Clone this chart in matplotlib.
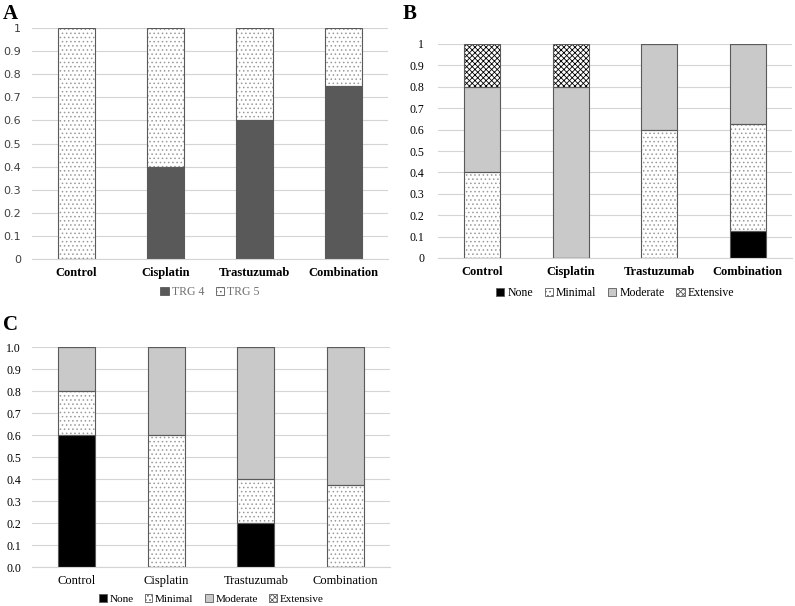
import numpy as np
import matplotlib
matplotlib.use('Agg')
import matplotlib.pyplot as plt
from matplotlib.patches import Patch

plt.rcParams['font.family'] = ['Liberation Serif', 'DejaVu Serif']
plt.rcParams['hatch.linewidth'] = 0.6

CATEGORIES = ['Control', 'Cisplatin', 'Trastuzumab', 'Combination']

# Panel A - tumour regression grade
TRG4 = [0.0, 0.4, 0.6, 0.75]
TRG5 = [1.0, 0.6, 0.4, 0.25]

# Panel B
B_NONE = [0.0, 0.0, 0.0, 0.125]
B_MINIMAL = [0.4, 0.0, 0.6, 0.5]
B_MODERATE = [0.4, 0.8, 0.4, 0.375]
B_EXTENSIVE = [0.2, 0.2, 0.0, 0.0]

# Panel C
C_NONE = [0.6, 0.0, 0.2, 0.0]
C_MINIMAL = [0.2, 0.6, 0.2, 0.375]
C_MODERATE = [0.2, 0.4, 0.6, 0.625]
C_EXTENSIVE = [0.0, 0.0, 0.0, 0.0]

W, H = 795, 606
EDGE = '#5a5a5a'
GRID = '#d4d4d4'

STYLES = {
    'TRG 4':     dict(fc='#595959', hatch=None, hc=None),
    'TRG 5':     dict(fc='white', hatch='....', hc='#9a9a9a'),
    'None':      dict(fc='black', hatch=None, hc=None),
    'Minimal':   dict(fc='white', hatch='....', hc='#9a9a9a'),
    'Moderate':  dict(fc='#c9c9c9', hatch=None, hc=None),
    'Extensive': dict(fc='white', hatch='xxxxxx', hc='black'),
}


def px_axes(fig, left, top, right, bottom):
    return fig.add_axes([left / W, 1 - bottom / H, (right - left) / W, (bottom - top) / H])


def stacked(ax, series, labels):
    x = np.arange(len(CATEGORIES))
    bottom = np.zeros(len(CATEGORIES))
    for vals, lab in zip(series, labels):
        st = STYLES[lab]
        vals = np.array(vals)
        if st['hatch']:
            ax.bar(x, vals, 0.41, bottom=bottom, color=st['fc'], hatch=st['hatch'],
                   edgecolor=st['hc'], linewidth=0, zorder=2)
        else:
            ax.bar(x, vals, 0.41, bottom=bottom, color=st['fc'], linewidth=0, zorder=2)
        ax.bar(x, vals, 0.41, bottom=bottom, fill=False, edgecolor=EDGE,
               linewidth=0.8, zorder=3)
        bottom += vals
    ax.set_xlim(-0.5, 3.5)
    ax.set_ylim(0, 1)
    ax.set_yticks(np.arange(0, 1.01, 0.1))
    ax.grid(axis='y', color=GRID, linewidth=0.8, zorder=0)
    for s in ['top', 'right', 'left']:
        ax.spines[s].set_visible(False)
    ax.spines['bottom'].set_color(GRID)
    ax.tick_params(length=0)
    ax.set_xticks(x)


def legend(ax, labels, y, color='black', fontsize=8.5):
    handles = []
    for lab in labels:
        st = STYLES[lab]
        handles.append(Patch(facecolor=st['fc'], edgecolor=EDGE, linewidth=0.6,
                             hatch=st['hatch']))
    ax.legend(handles, labels, loc='center', bbox_to_anchor=(0.5, y), ncol=len(labels),
              frameon=False, handlelength=0.7, handleheight=0.7, handletextpad=0.25,
              columnspacing=1.0, fontsize=fontsize, labelcolor=color)


fig = plt.figure(figsize=(W / 100, H / 100), dpi=100)

# ── A ─────────────────────────────────────────────────────────────────────────
axA = px_axes(fig, 32, 28, 388, 259)
stacked(axA, [TRG4, TRG5], ['TRG 4', 'TRG 5'])
axA.set_yticklabels(['0', '0.1', '0.2', '0.3', '0.4', '0.5', '0.6', '0.7', '0.8', '0.9', '1'],
                    fontsize=8, family='DejaVu Sans', color='#404040')
axA.tick_params(axis='y', pad=8)
axA.set_xticklabels(CATEGORIES, fontsize=9, fontweight='bold')
axA.tick_params(axis='x', pad=6)
legend(axA, ['TRG 4', 'TRG 5'], -0.145, color='#707070')
fig.text(3 / W, 1 - 14 / H, 'A', fontsize=15, fontweight='bold', va='center')

# ── B ─────────────────────────────────────────────────────────────────────────
axB = px_axes(fig, 438, 44, 792, 258)
stacked(axB, [B_NONE, B_MINIMAL, B_MODERATE, B_EXTENSIVE],
        ['None', 'Minimal', 'Moderate', 'Extensive'])
axB.set_yticklabels(['0', '0.1', '0.2', '0.3', '0.4', '0.5', '0.6', '0.7', '0.8', '0.9', '1'],
                    fontsize=8.5)
axB.tick_params(axis='y', pad=10)
axB.set_xticklabels(CATEGORIES, fontsize=9, fontweight='bold')
axB.tick_params(axis='x', pad=6)
legend(axB, ['None', 'Minimal', 'Moderate', 'Extensive'], -0.165)
fig.text(403 / W, 1 - 14 / H, 'B', fontsize=15, fontweight='bold', va='center')

# ── C ─────────────────────────────────────────────────────────────────────────
axC = px_axes(fig, 32, 347, 390, 567)
stacked(axC, [C_NONE, C_MINIMAL, C_MODERATE, C_EXTENSIVE],
        ['None', 'Minimal', 'Moderate', 'Extensive'])
axC.set_yticklabels([f'{v:.1f}' for v in np.arange(0, 1.01, 0.1)], fontsize=8.5)
axC.tick_params(axis='y', pad=8)
axC.set_xticklabels(CATEGORIES, fontsize=9)
axC.tick_params(axis='x', pad=6)
legend(axC, ['None', 'Minimal', 'Moderate', 'Extensive'], -0.145, fontsize=8)
fig.text(3 / W, 1 - 325 / H, 'C', fontsize=15, fontweight='bold', va='center')

fig.savefig('out.png', dpi=100)
